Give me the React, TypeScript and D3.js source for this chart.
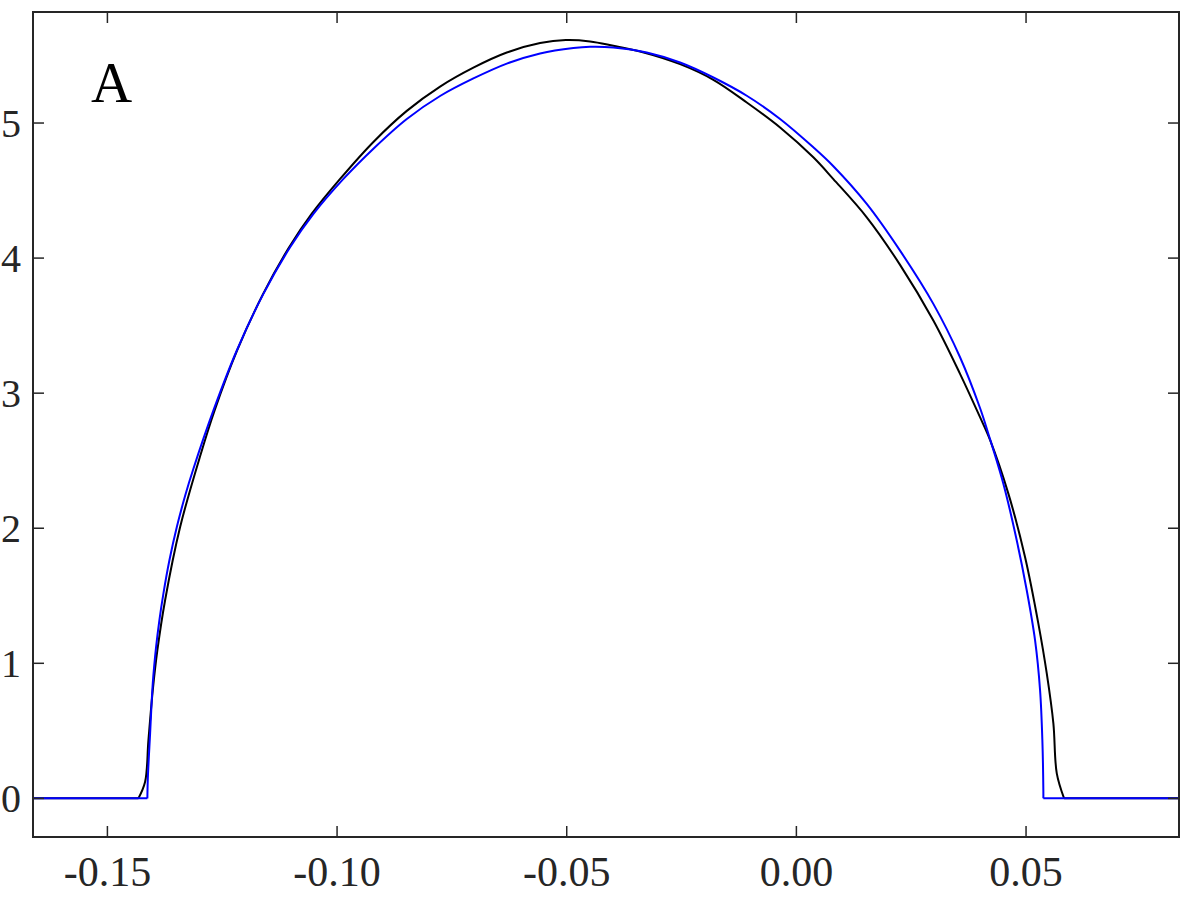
import React from "react";
import * as d3 from "d3";

// blue curve (smooth model)
const blueX = [-0.1662, -0.1413, -0.1412, -0.1407, -0.14012, -0.1394, -0.13868, -0.13781, -0.1365, -0.13489, -0.13308,
  -0.13128, -0.12692, -0.12183, -0.11604, -0.11023, -0.10515, -0.09862, -0.09209, -0.08482, -0.07757, -0.07032,
  -0.06305, -0.0558, -0.04855, -0.04492, -0.03985, -0.03258, -0.02532, -0.01807, -0.0108, -0.00355, 0.00369,
  0.00805, 0.01532, 0.02257, 0.02982, 0.03563, 0.03998, 0.04179, 0.04506, 0.04797, 0.05015, 0.05196, 0.05305,
  0.05355, 0.05377, 0.05377, 0.0833];
const blueY = [0, 0, 0.15, 0.483, 0.853, 1.121, 1.32, 1.516, 1.763, 2.009, 2.24,
  2.44, 2.872, 3.316, 3.735, 4.08, 4.327, 4.586, 4.81, 5.03, 5.2, 5.33,
  5.44, 5.515, 5.555, 5.564, 5.559, 5.522, 5.448, 5.337, 5.202, 5.03, 4.82,
  4.68, 4.401, 4.055, 3.661, 3.266, 2.89, 2.7, 2.33, 1.911, 1.541, 1.171, 0.801,
  0.432, 0.05, 0, 0];

// black curve (coarse samples)
const blackX = [-0.1662, -0.14325, -0.14179, -0.14107, -0.14012, -0.13912, -0.13744, -0.13417, -0.12967, -0.12666,
  -0.12176, -0.1161, -0.11044, -0.10554, -0.09934, -0.09209, -0.08482, -0.07757, -0.07032, -0.06305, -0.0558,
  -0.05019, -0.04492, -0.03985, -0.03403, -0.02532, -0.01807, -0.0108, -0.00355, 0.00369, 0.00805, 0.01532,
  0.02257, 0.02982, 0.03563, 0.03998, 0.0422, 0.04615, 0.04978, 0.05268, 0.05451, 0.05595, 0.05669, 0.05828, 0.0833];
const blackY = [0, 0, 0.123, 0.431, 0.801, 1.097, 1.467, 2.009, 2.55, 2.872,
  3.316, 3.735, 4.08, 4.327, 4.586, 4.86, 5.09, 5.27, 5.41, 5.522, 5.592,
  5.614, 5.604, 5.572, 5.53, 5.436, 5.32, 5.152, 4.967, 4.746, 4.585, 4.302,
  3.95, 3.538, 3.143, 2.822, 2.65, 2.256, 1.787, 1.294, 0.925, 0.555, 0.185, 0, 0];

const xTicks = [-0.15, -0.1, -0.05, 0, 0.05];
const yTicks = [0, 1, 2, 3, 4, 5];
const panelLabel = "A";

export default function App() {
  const left = 33, right = 1179, top = 12, bottom = 837;
  const x = d3.scaleLinear().domain([-0.1662, 0.0833]).range([left, right]);
  const y = d3.scaleLinear().domain([-0.286, 5.822]).range([bottom, top]);
  const line = d3.line<number[]>().x((d) => x(d[0])).y((d) => y(d[1]));
  const smooth = d3.line<number[]>().x((d) => x(d[0])).y((d) => y(d[1])).curve(d3.curveCatmullRom.alpha(0.5));

  // flat tails drawn straight, the arch drawn smooth
  const pieces = (xs: number[], ys: number[]) => {
    const pts = xs.map((v, i) => [v, ys[i]]);
    const n = pts.length;
    return [
      line([pts[0], pts[1]]) || "",
      smooth(pts.slice(1, n - 1)) || "",
      line([pts[n - 2], pts[n - 1]]) || "",
    ];
  };
  const blue = pieces(blueX, blueY);
  const black = pieces(blackX, blackY);
  const tl = 11;
  const axisColor = "#262626";
  const font = "'Liberation Serif', 'Times New Roman', serif";

  return (
    <svg width={1200} height={900} style={{ position: "absolute", left: 0, top: 0, background: "#fff" }}>
      <defs>
        <clipPath id="plot">
          <rect x={left} y={top} width={right - left} height={bottom - top} />
        </clipPath>
      </defs>
      <g clipPath="url(#plot)" fill="none" strokeLinejoin="round">
        {black.map((d, i) => (
          <path key={"k" + i} d={d} stroke="#000" strokeWidth={2} />
        ))}
        {blue.map((d, i) => (
          <path key={"b" + i} d={d} stroke="#0000ff" strokeWidth={2} />
        ))}
      </g>
      {/* ticks, inward on all sides */}
      <g stroke={axisColor} strokeWidth={1.5}>
        {xTicks.map((t) => (
          <g key={"x" + t}>
            <line x1={x(t)} x2={x(t)} y1={bottom} y2={bottom - tl} />
            <line x1={x(t)} x2={x(t)} y1={top} y2={top + tl} />
          </g>
        ))}
        {yTicks.map((t) => (
          <g key={"y" + t}>
            <line x1={left} x2={left + tl} y1={y(t)} y2={y(t)} />
            <line x1={right} x2={right - tl} y1={y(t)} y2={y(t)} />
          </g>
        ))}
      </g>
      <rect x={left} y={top} width={right - left} height={bottom - top} fill="none" stroke={axisColor} strokeWidth={2} />
      <g fontFamily={font} fontSize={42} fill="#262626">
        {xTicks.map((t) => (
          <text key={"xl" + t} x={x(t)} y={886} textAnchor="middle">
            {d3.format(".2f")(t).replace("−", "-")}
          </text>
        ))}
        {yTicks.map((t) => (
          <text key={"yl" + t} x={21} y={y(t) + 14} textAnchor="end" fontSize={40}>
            {t}
          </text>
        ))}
      </g>
      <text x={91} y={102} fontFamily={font} fontSize={57} fill="#000">
        {panelLabel}
      </text>
    </svg>
  );
}
